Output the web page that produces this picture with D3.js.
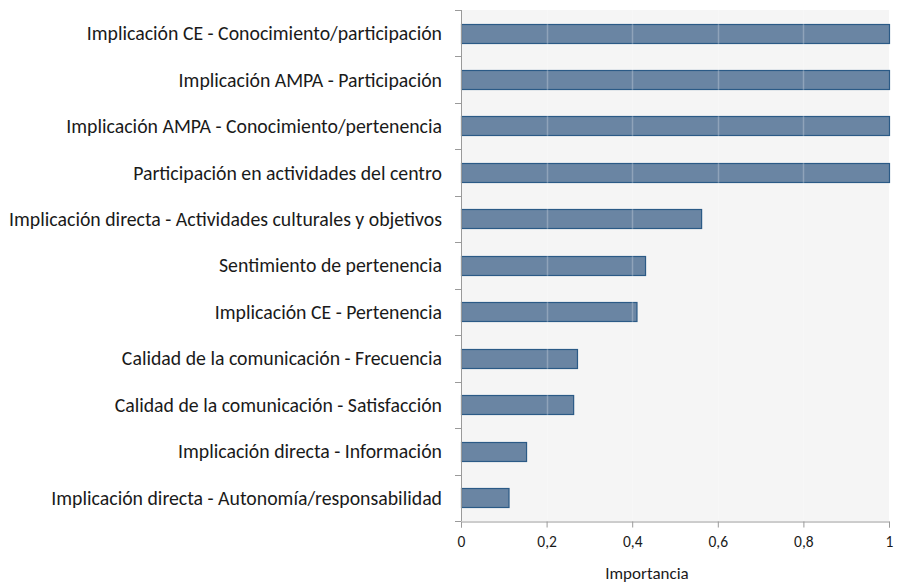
<!DOCTYPE html>
<html>
<head>
<meta charset="utf-8">
<script src="https://cdn.jsdelivr.net/npm/d3@7"></script>
<style>
  body { margin: 0; background: #fff; }
  text { font-family: Carlito, Calibri, Lato, sans-serif; fill: #1a1a1a; }
</style>
</head>
<body>
<div id="chart"></div>
<script>
const WIDTH = 897
const HEIGHT = 584

const categories = [
  "Implicación CE - Conocimiento/participación",
  "Implicación AMPA - Participación",
  "Implicación AMPA - Conocimiento/pertenencia",
  "Participación en actividades del centro",
  "Implicación directa - Actividades culturales y objetivos",
  "Sentimiento de pertenencia",
  "Implicación CE - Pertenencia",
  "Calidad de la comunicación - Frecuencia",
  "Calidad de la comunicación - Satisfacción",
  "Implicación directa - Información",
  "Implicación directa - Autonomía/responsabilidad"
]
const values = [1, 1, 1, 1, 0.561, 0.43, 0.41, 0.271, 0.262, 0.152, 0.111]
const xTicks = [0, 0.2, 0.4, 0.6, 0.8, 1]
const xTitle = "Importancia"

const margin = {top: 10, right: 8, bottom: 63, left: 461}
const innerW = WIDTH - margin.left - margin.right
const innerH = HEIGHT - margin.top - margin.bottom

const svg = d3.select("#chart")
  .append("svg")
  .attr("width", WIDTH)
  .attr("height", HEIGHT)

const g = svg.append("g")
  .attr("transform", `translate(${margin.left},${margin.top})`)

const x = d3.scaleLinear().domain([0, 1]).range([0, innerW])
const y = d3.scaleBand().domain(categories).range([0, innerH]).paddingInner(0.584).paddingOuter(0.292)
const yBand = d3.scaleBand().domain(categories).range([0, innerH])

// plot background
g.append("rect")
  .attr("width", innerW)
  .attr("height", innerH)
  .attr("fill", "#f5f5f5")

// bars
g.append("g")
  .selectAll("rect")
  .data(values)
  .join("rect")
  .attr("x", 0.5)
  .attr("y", (d, i) => Math.round(y(categories[i])) + 0.5)
  .attr("width", d => x(d))
  .attr("height", Math.round(y.bandwidth()))
  .attr("fill", "#6a85a3")
  .attr("stroke", "#2b5a86")
  .attr("stroke-width", 1.2)

// gridlines, drawn over the bars
g.append("g")
  .selectAll("line")
  .data(xTicks.slice(1, -1))
  .join("line")
  .attr("x1", d => Math.round(x(d)) + 0.5)
  .attr("x2", d => Math.round(x(d)) + 0.5)
  .attr("y1", 0)
  .attr("y2", innerH)
  .attr("stroke", "#ffffff")
  .attr("stroke-opacity", 0.25)
  .attr("stroke-width", 1.5)

// y axis with ticks at band edges
g.append("line")
  .attr("x1", 0.5).attr("x2", 0.5)
  .attr("y1", 0).attr("y2", innerH)
  .attr("stroke", "#9a9a9a")

g.append("g")
  .selectAll("line")
  .data(categories.concat(["__end"]))
  .join("line")
  .attr("x1", -6).attr("x2", 0)
  .attr("y1", (d, i) => Math.round(i * yBand.step()) + 0.5)
  .attr("y2", (d, i) => Math.round(i * yBand.step()) + 0.5)
  .attr("stroke", "#9a9a9a")

g.append("g")
  .selectAll("text")
  .data(categories)
  .join("text")
  .attr("x", -19)
  .attr("y", d => yBand(d) + yBand.bandwidth() / 2)
  .attr("dy", "0.35em")
  .attr("text-anchor", "end")
  .attr("font-size", 19.8)
  .text(d => d)

// x axis
const xAxis = g.append("g")
  .attr("transform", `translate(0,${innerH + 0.5})`)
  .call(d3.axisBottom(x).tickValues(xTicks).tickSize(6).tickPadding(8)
    .tickFormat(d => d3.format("~g")(d).replace(".", ",")))
xAxis.select(".domain").attr("stroke", "#9a9a9a")
xAxis.selectAll(".tick line").attr("stroke", "#9a9a9a")
xAxis.selectAll(".tick text")
  .attr("font-size", 15.5)
  .attr("font-family", "Carlito, Calibri, Lato, sans-serif")
  .attr("fill", "#1a1a1a")

svg.append("text")
  .attr("x", 647)
  .attr("y", 579)
  .attr("text-anchor", "middle")
  .attr("font-size", 17)
  .text(xTitle)
</script>
</body>
</html>
